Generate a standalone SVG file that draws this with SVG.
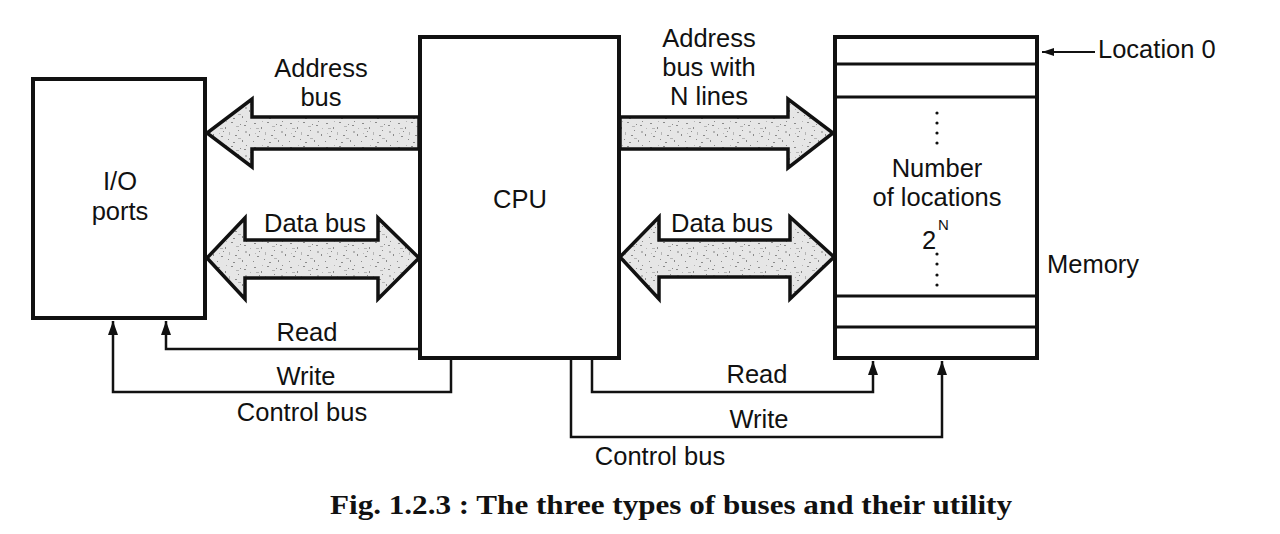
<svg xmlns="http://www.w3.org/2000/svg" width="1280" height="534" viewBox="0 0 1280 534">
<style>
.box{fill:#fff;stroke:#111;stroke-width:4}
.bus{fill:url(#speck);stroke:#111;stroke-width:3.5;stroke-linejoin:miter}
.ctl{fill:none;stroke:#111;stroke-width:2.5}
.sep{stroke:#111;stroke-width:3}
.t{font-family:"Liberation Sans",Arial,sans-serif;font-size:25.5px;fill:#111}
.m{text-anchor:middle}
.cap{font-family:"Liberation Serif","Times New Roman",serif;font-weight:bold;font-size:28px;fill:#111;text-anchor:middle}
.dot{fill:#111}
</style>
<defs>
<pattern id="speck" width="36" height="24" patternUnits="userSpaceOnUse">
<rect width="36" height="24" fill="#e6e6e6"/>
<g fill="#8a8a8a">
<rect x="2" y="3" width="2" height="1"/><rect x="9" y="7" width="1" height="2"/><rect x="15" y="2" width="2" height="1"/>
<rect x="22" y="10" width="1" height="1"/><rect x="28" y="5" width="2" height="1"/><rect x="33" y="14" width="1" height="2"/>
<rect x="5" y="16" width="2" height="1"/><rect x="12" y="19" width="1" height="1"/><rect x="19" y="15" width="2" height="1"/>
<rect x="26" y="20" width="1" height="2"/><rect x="30" y="1" width="1" height="1"/><rect x="7" y="11" width="1" height="1"/>
<rect x="17" y="22" width="2" height="1"/><rect x="24" y="4" width="1" height="1"/><rect x="1" y="21" width="1" height="1"/>
</g>
<g fill="#b5b5b5">
<rect x="4" y="8" width="3" height="1"/><rect x="13" y="12" width="1" height="3"/><rect x="20" y="6" width="3" height="1"/>
<rect x="29" y="11" width="2" height="2"/><rect x="10" y="1" width="1" height="1"/><rect x="34" y="8" width="1" height="1"/>
<rect x="22" y="18" width="3" height="1"/><rect x="3" y="13" width="1" height="1"/>
</g>
</pattern>
<marker id="ah" viewBox="0 0 14 10" refX="14" refY="5" markerWidth="14" markerHeight="10" markerUnits="userSpaceOnUse" orient="auto">
<path d="M0,0 L14,5 L0,10 Z" fill="#111"/>
</marker>
<marker id="ahs" viewBox="0 0 12 8" refX="12" refY="4" markerWidth="12" markerHeight="8" markerUnits="userSpaceOnUse" orient="auto">
<path d="M0,0 L12,4 L0,8 Z" fill="#111"/>
</marker>
</defs>

<g id="connectors">
<polygon id="addr-left" class="bus" points="419,117 252,117 252,99 207,133 252,167 252,149 419,149"/>
<polygon id="data-left" class="bus" points="207,258 245,218 245,240 378,240 378,218 419,258 378,299 378,278 245,278 245,299"/>
<polygon id="addr-right" class="bus" points="620,117 788,117 788,99 833,133 788,168 788,149 620,149"/>
<polygon id="data-right" class="bus" points="620,257 659,217 659,240 790,240 790,217 834,257 790,299 790,277 659,277 659,299"/>
<path class="ctl" d="M420,349 H166 V321" marker-end="url(#ah)"/>
<path class="ctl" d="M451,359 V392 H113 V321" marker-end="url(#ah)"/>
<path class="ctl" d="M592,359 V392 H873 V361" marker-end="url(#ah)"/>
<path class="ctl" d="M571,359 V437 H942 V361" marker-end="url(#ah)"/>
<path class="ctl" d="M1095,52 H1042" marker-end="url(#ahs)" style="stroke-width:2"/>
</g>

<g id="io-ports">
<rect class="box" x="33" y="79" width="172" height="239"/>
<text class="t m" x="120" y="190">I/O</text>
<text class="t m" x="120" y="220">ports</text>
</g>

<g id="cpu">
<rect class="box" x="420" y="37" width="199" height="321"/>
<text class="t m" x="520" y="208">CPU</text>
</g>

<g id="memory">
<rect class="box" x="835" y="37" width="202" height="321"/>
<line class="sep" x1="835" y1="64" x2="1037" y2="64"/>
<line class="sep" x1="835" y1="97" x2="1037" y2="97"/>
<line class="sep" x1="835" y1="296" x2="1037" y2="296"/>
<line class="sep" x1="835" y1="327" x2="1037" y2="327"/>
<g class="dot">
<circle cx="937" cy="113" r="1.6"/><circle cx="937" cy="123" r="1.6"/><circle cx="937" cy="133" r="1.6"/><circle cx="937" cy="143" r="1.6"/>
<circle cx="937" cy="254" r="1.6"/><circle cx="937" cy="264" r="1.6"/><circle cx="937" cy="275" r="1.6"/><circle cx="937" cy="285" r="1.6"/>
</g>
<text class="t m" x="937" y="177">Number</text>
<text class="t m" x="937" y="206">of locations</text>
<text class="t" x="922" y="249">2</text>
<text class="t" x="938" y="230" style="font-size:15px">N</text>
<text class="t" x="1047" y="273">Memory</text>
<text class="t" x="1098" y="58">Location 0</text>
</g>

<g id="labels">
<text class="t m" x="321" y="77">Address</text>
<text class="t m" x="321" y="106">bus</text>
<text class="t m" x="315" y="232">Data bus</text>
<text class="t m" x="709" y="47">Address</text>
<text class="t m" x="709" y="76">bus with</text>
<text class="t m" x="709" y="105">N lines</text>
<text class="t m" x="722" y="232">Data bus</text>
<text class="t m" x="307" y="341">Read</text>
<text class="t m" x="306" y="385">Write</text>
<text class="t m" x="302" y="421">Control bus</text>
<text class="t m" x="757" y="383">Read</text>
<text class="t m" x="759" y="428">Write</text>
<text class="t m" x="660" y="465">Control bus</text>
</g>

<text class="cap" x="671" y="514" textLength="682" lengthAdjust="spacingAndGlyphs">Fig. 1.2.3 : The three types of buses and their utility</text>
</svg>
